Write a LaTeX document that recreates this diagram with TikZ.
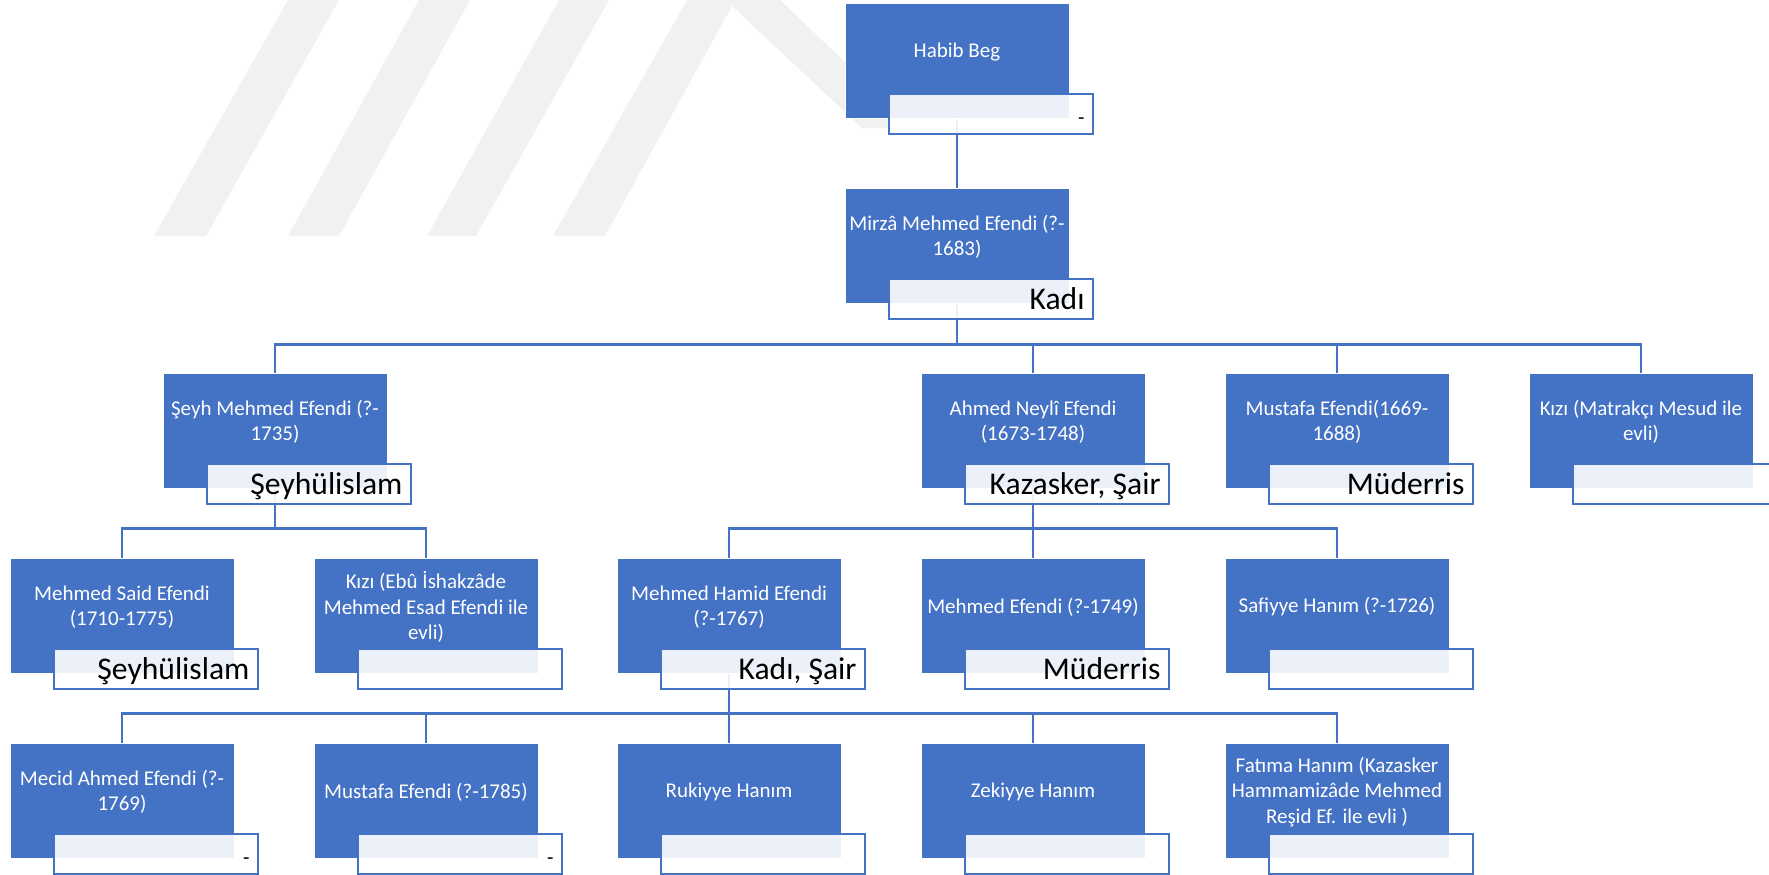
\documentclass[tikz,border=0pt]{standalone}
\usepackage{fontspec}
\setmainfont{Carlito}
\usetikzlibrary{backgrounds}
\definecolor{boxblue}{RGB}{68,114,196}
\definecolor{markgray}{RGB}{241,241,241}
\newcommand{\smtxt}{\fontsize{10.5}{12.6}\selectfont}
\newcommand{\bigtxt}{\fontsize{15.8}{19}\selectfont}

\begin{document}
\begin{tikzpicture}
    [%%%%%%%%%%%%%%%%%%%%%%%%%%%%%%
        x=0.5pt, y=-0.5pt,
        box/.style={rectangle,fill=boxblue,draw=white,line width=0.4pt,minimum width=112pt,minimum height=57.5pt,inner sep=0pt},
        boxtext/.style={text=white,font=\smtxt,align=center,inner sep=0pt},
        lbl/.style={rectangle,fill=white,fill opacity=0.9,draw=boxblue,line width=0.9pt,minimum width=102pt,minimum height=20pt,inner sep=0pt},
        lbltext/.style={anchor=base east,font=\bigtxt,text=black,inner sep=0pt},
        conn/.style={draw=boxblue,line width=1.2pt},
        wmark/.style={fill=markgray,draw=none}
    ]%%%%%%%%%%%%%%%%%%%%%%%%%%%%%%

\useasboundingbox (0,0) rectangle (1769,874);

\foreach \nm/\cx/\ty/\txt/\lab in {
    habib/957/3/{Habib Beg}/{\smtxt -},
    mirza/957/188/{Mirzâ Mehmed Efendi (?-\\1683)}/{Kadı},
    seyh/275/373/{Şeyh Mehmed Efendi (?-\\1735)}/{Şeyhülislam},
    ahmed/1033/373/{Ahmed Neylî Efendi\\(1673-1748)}/{Kazasker, Şair},
    mustafa/1337/373/{Mustafa Efendi(1669-\\1688)}/{Müderris},
    kizi/1641/373/{Kızı (Matrakçı Mesud ile\\evli)}/{},
    said/122/558/{Mehmed Said Efendi\\(1710-1775)}/{Şeyhülislam},
    ebu/426/558/{Kızı (Ebû İshakzâde\\Mehmed Esad Efendi ile\\evli)}/{},
    hamid/729/558/{Mehmed Hamid Efendi\\(?-1767)}/{Kadı, Şair},
    mehmed/1033/558/{Mehmed Efendi (?-1749)}/{Müderris},
    safiyye/1337/558/{Safiyye Hanım (?-1726)}/{},
    mecid/122/743/{Mecid Ahmed Efendi (?-\\1769)}/{\smtxt -},
    mustafb/426/743/{Mustafa Efendi (?-1785)}/{\smtxt -},
    rukiyye/729/743/{Rukiyye Hanım}/{},
    zekiyye/1033/743/{Zekiyye Hanım}/{},
    fatima/1337/743/{Fatıma Hanım (Kazasker\\Hammamizâde Mehmed\\Reşid Ef. ile evli )}/{}}{
    \node[box] (\nm) at (\cx,\ty+57.5) {};
    \node[boxtext] (\nm-t) at (\cx,\ty+49) {\txt};
    \node[lbl] (\nm-l) at (\cx+34,\ty+111) {};
    \node[lbltext] (\nm-lt) at ([xshift=-4.5pt,yshift=-5pt]\nm-l.east) {\lab};
}

\begin{scope}[on background layer]
% watermark
\fill[wmark] (154,236) -- (206,236) -- (339,0) -- (288,0) -- cycle;
\fill[wmark] (288,236) -- (339,236) -- (470,0) -- (419,0) -- cycle;
\fill[wmark] (427,236) -- (476,236) -- (609,0) -- (559,0) -- cycle;
\fill[wmark] (553,236) -- (605,236) -- (732,6) -- (862,128) -- (914,128) -- (780,0) -- (687,0) -- cycle;

% connectors
\draw[conn] (habib.south) -- (mirza.north);
\foreach \ch in {seyh,ahmed,mustafa,kizi}
    \draw[conn] (mirza.south) -- ++(0,41) -| (\ch.north);
\foreach \ch in {said,ebu}
    \draw[conn] (seyh.south) -- ++(0,40) -| (\ch.north);
\foreach \ch in {hamid,mehmed,safiyye}
    \draw[conn] (ahmed.south) -- ++(0,40) -| (\ch.north);
\foreach \ch in {mecid,mustafb,rukiyye,zekiyye,fatima}
    \draw[conn] (hamid.south) -- ++(0,40) -| (\ch.north);
\end{scope}

\end{tikzpicture}
\end{document}
